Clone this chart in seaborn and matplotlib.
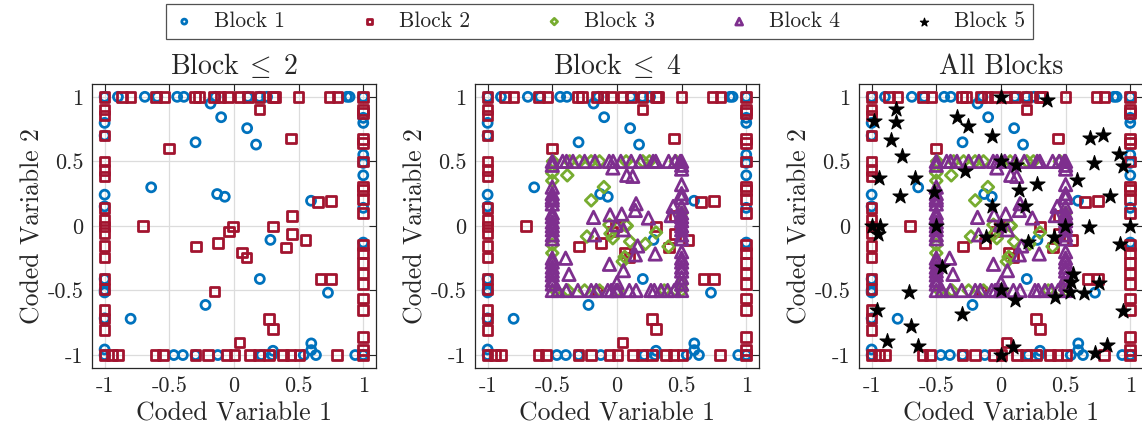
import numpy as np
import pandas as pd
import seaborn as sns
import matplotlib
matplotlib.use("Agg")
import matplotlib.pyplot as plt

# ── Données (x, y codés) ────────────────────────────────────────
BLOCK1 = [
    (-1.0, 1.0), (-0.897, 1.0), (-0.689, 1.0), (-0.593, 1.0), (-0.439, 1.0), (-0.387, 1.0),
    (-0.143, 1.0), (0.107, 1.0), (0.197, 1.0), (0.256, 1.0), (0.874, 1.0), (0.894, 1.0), (1.0, 1.0),
    (-0.181, 0.948), (-0.099, 0.842), (0.102, 0.757), (-0.297, 0.648), (0.171, 0.630),
    (-0.640, 0.299), (-0.130, 0.247), (-0.071, 0.226), (0.596, 0.195), (0.282, -0.108),
    (0.200, -0.411), (0.727, -0.517), (-0.220, -0.612), (-0.799, -0.719), (0.598, -0.910),
    (0.598, -0.962), (0.302, -0.967),
    (-1.0, 0.798), (-1.0, 0.70), (-1.0, 0.242), (-1.0, 0.151), (-1.0, -0.411), (-1.0, -0.497),
    (-1.0, -0.515), (-1.0, -0.716), (-1.0, -0.957),
    (1.0, 0.837), (1.0, 0.798), (1.0, 0.552), (1.0, 0.488), (1.0, 0.392), (1.0, 0.14), (1.0, -0.129),
    (-1.0, -1.0), (-0.465, -1.0), (-0.395, -1.0), (-0.297, -1.0), (-0.125, -1.0), (0.212, -1.0),
    (0.295, -1.0), (0.54, -1.0), (0.634, -1.0), (0.938, -1.0), (1.0, -1.0),
]

BLOCK2 = [
    (-1.0, 1.0), (-0.864, 1.0), (-0.799, 1.0), (-0.601, 1.0), (-0.537, 1.0), (-0.303, 1.0),
    (-0.272, 1.0), (-0.156, 1.0), (-0.104, 1.0), (-0.048, 1.0), (0.042, 1.0), (0.107, 1.0),
    (0.197, 1.0), (0.300, 1.0), (0.316, 1.0), (0.500, 1.0), (0.740, 1.0), (0.802, 1.0), (1.0, 1.0),
    (0.199, 0.902), (0.441, 0.677), (-0.501, 0.599), (0.650, 0.185), (0.750, 0.195), (0.447, 0.079),
    (-0.704, 0.0), (-0.006, -0.004), (-0.040, -0.043), (0.300, -0.004), (0.449, -0.063),
    (-0.292, -0.160), (-0.122, -0.134), (0.403, -0.168), (0.552, -0.108), (0.063, -0.207),
    (0.096, -0.245), (0.668, -0.411), (0.750, -0.411), (-0.150, -0.509), (0.269, -0.721),
    (0.300, -0.799), (0.042, -0.902),
    (-1.0, 0.902), (-1.0, 0.855), (-1.0, 0.70), (-1.0, 0.50), (-1.0, 0.435), (-1.0, 0.384),
    (-1.0, 0.138), (-1.0, 0.048), (-1.0, -0.004), (-1.0, -0.056), (-1.0, -0.155), (-1.0, -0.245),
    (-1.0, -0.411), (-1.0, -0.489), (-1.0, -0.652), (-1.0, -0.716), (-1.0, -0.807),
    (1.0, 0.90), (1.0, 0.875), (1.0, 0.674), (1.0, 0.643), (1.0, 0.50), (1.0, 0.306), (1.0, 0.280),
    (1.0, 0.208), (1.0, 0.099), (1.0, -0.147), (1.0, -0.211), (1.0, -0.289), (1.0, -0.367),
    (1.0, -0.450), (1.0, -0.561), (1.0, -0.652), (1.0, -0.859), (1.0, -0.962),
    (-1.0, -1.0), (-0.941, -1.0), (-0.897, -1.0), (-0.606, -1.0), (-0.547, -1.0), (-0.297, -1.0),
    (-0.202, -1.0), (-0.058, -1.0), (0.004, -1.0), (0.122, -1.0), (0.192, -1.0), (0.269, -1.0),
    (0.380, -1.0), (0.436, -1.0), (0.506, -1.0), (0.797, -1.0), (1.0, -1.0),
]

BLOCK3 = [
    (-0.494, 0.5), (-0.366, 0.5), (-0.289, 0.5), (-0.20, 0.5), (-0.135, 0.5), (0.071, 0.5),
    (0.20, 0.5), (0.251, 0.5), (0.456, 0.5),
    (-0.384, 0.392), (-0.5, 0.41), (-0.5, 0.35), (-0.5, -0.147), (-0.5, -0.21),
    (-0.101, 0.301), (-0.199, 0.198), (-0.058, 0.009), (0.071, 0.004), (-0.232, -0.082),
    (-0.032, -0.095), (-0.05, -0.06), (0.076, 0.0), (0.102, -0.121), (0.220, -0.139),
    (0.045, -0.276), (0.302, -0.051), (0.399, -0.160), (0.06, -0.24),
    (-0.474, -0.5), (-0.379, -0.5), (-0.250, -0.5), (-0.135, -0.5), (0.006, -0.5),
    (0.366, -0.5), (0.456, -0.5), (0.5, -0.5), (0.5, -0.45), (0.5, 0.1),
]

BLOCK4 = [
    (-0.5, 0.5), (-0.42, 0.5), (-0.39, 0.5), (-0.34, 0.5), (-0.25, 0.5), (-0.17, 0.5),
    (-0.06, 0.5), (-0.03, 0.5), (0.03, 0.5), (0.11, 0.5), (0.18, 0.5), (0.28, 0.5),
    (0.30, 0.5), (0.40, 0.5), (0.45, 0.5), (0.49, 0.5), (0.5, 0.5),
    (-0.5, -0.5), (-0.456, -0.5), (-0.392, -0.5), (-0.302, -0.5), (-0.199, -0.5), (-0.160, -0.5),
    (-0.071, -0.5), (-0.045, -0.5), (-0.006, -0.5), (0.006, -0.5), (0.096, -0.5), (0.148, -0.5),
    (0.263, -0.5), (0.289, -0.5), (0.340, -0.5), (0.392, -0.5), (0.443, -0.5), (0.5, -0.5),
    (-0.5, 0.47), (-0.5, 0.30), (-0.5, 0.25), (-0.5, 0.22), (-0.5, 0.20), (-0.5, 0.17),
    (-0.5, 0.10), (-0.5, 0.07), (-0.5, 0.03), (-0.5, 0.0), (-0.5, -0.03), (-0.5, -0.07),
    (-0.5, -0.10), (-0.5, -0.25), (-0.5, -0.28), (-0.5, -0.32), (-0.5, -0.35), (-0.5, -0.38),
    (-0.5, -0.42), (-0.5, -0.45),
    (0.5, 0.47), (0.5, 0.44), (0.5, 0.32), (0.5, 0.25), (0.5, 0.22), (0.5, 0.15), (0.5, 0.10),
    (0.5, 0.07), (0.5, 0.04), (0.5, 0.0), (0.5, -0.03), (0.5, -0.07), (0.5, -0.10), (0.5, -0.20),
    (0.5, -0.25), (0.5, -0.28), (0.5, -0.32), (0.5, -0.35), (0.5, -0.40), (0.5, -0.45),
    (-0.032, 0.449), (0.076, 0.392), (0.122, 0.384), (0.148, 0.172), (0.142, 0.12),
    (-0.181, 0.066), (-0.053, 0.086), (0.037, 0.092), (0.243, 0.061), (-0.006, 0.009),
    (0.435, 0.151), (0.42, 0.08), (-0.397, -0.25), (-0.371, -0.375), (-0.173, -0.069),
    (-0.058, -0.297), (0.05, -0.346), (0.05, -0.03), (0.160, -0.155), (0.142, -0.224),
    (0.296, -0.217), (0.0, -0.44),
]

BLOCK5 = [
    (0.0, 1.0), (0.359, 0.974), (-0.809, 0.907), (-0.982, 0.811), (-0.809, 0.806), (-0.343, 0.845),
    (-0.252, 0.772), (-0.068, 0.695), (-0.847, 0.669), (-0.763, 0.539), (0.686, 0.682),
    (0.788, 0.708), (0.916, 0.560), (0.941, 0.467), (0.719, 0.487), (0.0, 0.50), (0.118, 0.475),
    (-0.941, 0.371), (-0.668, 0.371), (-0.277, 0.423), (-0.783, 0.229), (-0.515, 0.260),
    (0.141, 0.281), (0.282, 0.327), (0.591, 0.353), (0.846, 0.229), (-0.073, 0.156), (0.188, 0.156),
    (-1.0, 0.0), (-0.936, -0.004), (-0.95, -0.06), (-0.502, 0.0), (0.0, 0.0), (0.499, 0.0),
    (0.679, -0.01), (1.0, 0.0),
    (-0.119, -0.087), (0.213, -0.121), (0.413, -0.087), (0.923, -0.139), (-0.456, -0.320),
    (0.558, -0.372), (0.540, -0.432), (0.762, -0.445), (-0.712, -0.509), (0.0, -0.5),
    (0.106, -0.573), (0.417, -0.552), (0.532, -0.509), (0.642, -0.522), (-0.962, -0.651),
    (-0.298, -0.683), (-0.694, -0.776), (0.941, -0.656), (-0.880, -0.889), (-0.638, -0.931),
    (0.091, -0.941), (0.0, -1.0), (0.724, -0.983), (0.821, -0.923),
]

BLOCKS = ["Block 1", "Block 2", "Block 3", "Block 4", "Block 5"]
DATA = [BLOCK1, BLOCK2, BLOCK3, BLOCK4, BLOCK5]
TITLES = [r"$\mathrm{Block}\;\leq\;2$", r"$\mathrm{Block}\;\leq\;4$", "All Blocks"]
MAX_BLOCK = [2, 4, 5]
TICKS = [-1, -0.5, 0, 0.5, 1]
TICK_LABELS = ["-1", "-0.5", "0", "0.5", "1"]

# ── Style ───────────────────────────────────────────────────────
COLORS  = ["#0072BD", "#A2142F", "#77AC30", "#7E2F8E", "#000000"]
MARKERS = ["o", "s", "D", "^", "*"]
SIZES   = [42, 48, 36, 80, 130]
FILLED  = [False, False, False, False, True]
TXT     = "#262626"

sns.set_theme(style="white")
plt.rcParams.update({
    "font.family"        : ["cmr10", "DejaVu Serif"],
    "mathtext.fontset"   : "cm",
    "axes.unicode_minus" : False,
    "axes.edgecolor"     : TXT,
    "axes.linewidth"     : 0.9,
    "xtick.color"        : TXT,
    "ytick.color"        : TXT,
    "text.color"         : TXT,
    "axes.labelcolor"    : TXT,
})

rows = []
for name, pts in zip(BLOCKS, DATA):
    for x, y in pts:
        rows.append({"block": name, "x": x, "y": y})
df = pd.DataFrame(rows)

fig = plt.figure(figsize=(11.42, 4.37), dpi=100)
lefts = [91.7 / 1142, 474.7 / 1142, 858.7 / 1142]
W, H, B = 284.5 / 1142, 0.650, 0.158

for k, (left, title, nmax) in enumerate(zip(lefts, TITLES, MAX_BLOCK)):
    ax = fig.add_axes([left, B, W, H])
    for i in range(nmax):
        sub = df[df["block"] == BLOCKS[i]]
        face = COLORS[i] if FILLED[i] else "none"
        sns.scatterplot(data=sub, x="x", y="y", ax=ax, marker=MARKERS[i], s=SIZES[i],
                        facecolor=face, edgecolor=COLORS[i],
                        linewidth=0.8 if FILLED[i] else 2.0,
                        label=BLOCKS[i], legend=False, zorder=3 + i, clip_on=False)
    ax.set_xlim(-1.1, 1.1)
    ax.set_ylim(-1.1, 1.1)
    ax.set_xticks(TICKS)
    ax.set_yticks(TICKS)
    ax.set_xticklabels(TICK_LABELS)
    ax.set_yticklabels(TICK_LABELS)
    ax.tick_params(direction="in", length=5, width=0.8, labelsize=16,
                   top=True, right=True, pad=6)
    ax.grid(True, color="#dcdcdc", linewidth=0.9, zorder=0)
    ax.set_axisbelow(True)
    ax.set_title(title, fontsize=20, pad=7)
    ax.set_xlabel("Coded Variable 1", fontsize=18.5, labelpad=4)
    ax.set_ylabel("Coded Variable 2", fontsize=18.5, labelpad=2)
    for sp in ax.spines.values():
        sp.set_visible(True)
    last_ax = ax

handles, labels = last_ax.get_legend_handles_labels()
leg = fig.legend(handles, labels, loc="center", ncol=5, mode="expand",
                 bbox_to_anchor=(166 / 1142, 1 - 40 / 437, 867 / 1142, 37 / 437),
                 borderaxespad=0, fontsize=15.5, markerscale=0.55, handlelength=1.0,
                 handletextpad=0.9, borderpad=0.35, fancybox=False, frameon=True)
leg.get_frame().set_edgecolor(TXT)
leg.get_frame().set_linewidth(0.9)

fig.savefig("out.png", dpi=100)
